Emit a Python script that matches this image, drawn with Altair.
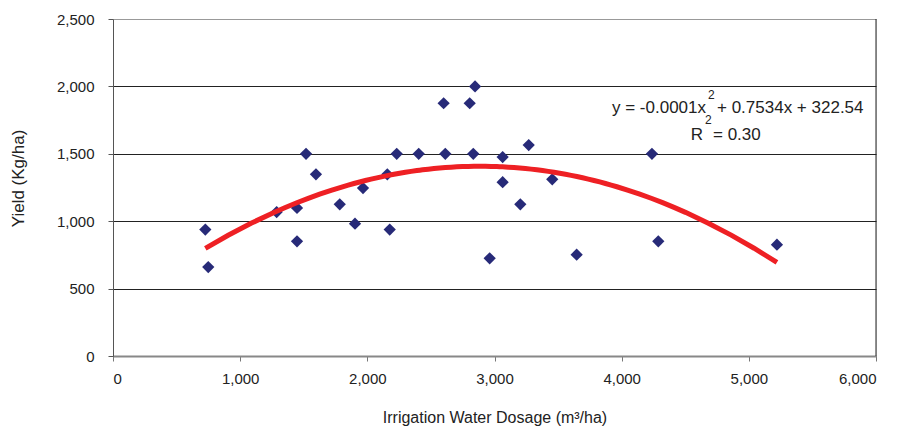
import altair as alt
import pandas as pd

# Irrigation water dosage (m3/ha) and yield (kg/ha)
dosage = [726, 749, 1287, 1447, 1447, 1518, 1596, 1783, 1903, 1966, 2157, 2176,
          2231, 2404, 2600, 2613, 2805, 2847, 2833, 2962, 3064, 3064, 3203, 3269,
          3454, 3646, 4238, 4288, 5221]
yield_ = [938, 660, 1068, 1098, 851, 1500, 1348, 1125, 982, 1246, 1348, 938,
          1500, 1500, 1875, 1500, 1875, 2000, 1500, 725, 1476, 1289, 1125, 1565,
          1311, 752, 1500, 851, 826]

x_ticks = [0, 1000, 2000, 3000, 4000, 5000, 6000]
y_ticks = [0, 500, 1000, 1500, 2000, 2500]

df = pd.DataFrame({"dosage": dosage, "yield": yield_})

FONT = "Liberation Sans"
W, H = 763, 337

xenc = alt.X("dosage:Q",
             scale=alt.Scale(domain=[0, 6000], nice=False),
             axis=alt.Axis(values=x_ticks, format=",.0f", grid=False,
                           title="Irrigation Water Dosage (m³/ha)",
                           titleFont=FONT, titleFontSize=16, titleFontWeight="normal",
                           titleColor="#222", titleY=61, titleBaseline="middle",
                           labelFont=FONT, labelFontSize=15, labelColor="#222",
                           labelPadding=10, tickSize=5, tickColor="#777",
                           domainColor="#888", domainWidth=2))
yenc = alt.Y("yield:Q",
             scale=alt.Scale(domain=[0, 2500], nice=False),
             axis=alt.Axis(values=y_ticks, format=",.0f", grid=True,
                           gridColor=alt.condition("datum.value == 2500", alt.value("#999"), alt.value("#222")),
                           gridWidth=1,
                           title="Yield (Kg/ha)",
                           titleFont=FONT, titleFontSize=17, titleFontWeight="normal",
                           titleColor="#222", titleX=-95, titleY=159,
                           titleAlign="center", titleBaseline="middle",
                           labelFont=FONT, labelFontSize=15, labelColor="#222",
                           labelPadding=14, tickSize=5, tickColor="#555",
                           domainColor="#555", domainWidth=1))

base = alt.Chart(df)

points = base.mark_point(shape="diamond", filled=True, size=150, color="#272A78", opacity=1).encode(
    x=xenc, y=yenc)

trend = base.transform_regression("dosage", "yield", method="poly", order=2).mark_line(
    color="#EE2024", strokeWidth=5).encode(x="dosage:Q", y="yield:Q")

border = alt.Chart(pd.DataFrame({"a": [0]})).mark_rule(color="#222", strokeWidth=1).encode(
    x=alt.value(W), y=alt.value(0), y2=alt.value(H))

ann = pd.DataFrame({"a": [0]})
def txt(t, x, y, size, align):
    return alt.Chart(ann).mark_text(text=t, font=FONT, fontSize=size, color="#222",
                                    align=align, baseline="alphabetic").encode(
        x=alt.value(x), y=alt.value(y))

labels = [
    txt("y = -0.0001x", 593, 94, 17, "right"),
    txt("2", 595, 80, 12, "left"),
    txt("+ 0.7534x + 322.54", 604, 94, 17, "left"),
    txt("R", 590, 121, 17, "right"),
    txt("2", 592, 105, 12, "left"),
    txt("= 0.30", 600, 121, 17, "left"),
]

chart = alt.layer(points, trend, border, *labels).properties(
    width=W, height=H,
    autosize=alt.AutoSizeParams(type="none"),
    padding={"left": 105, "top": 11, "right": 15, "bottom": 70},
).configure_view(stroke=None).configure(background="white")

chart.save("out.html", embed_options={"renderer": "svg", "actions": False})
